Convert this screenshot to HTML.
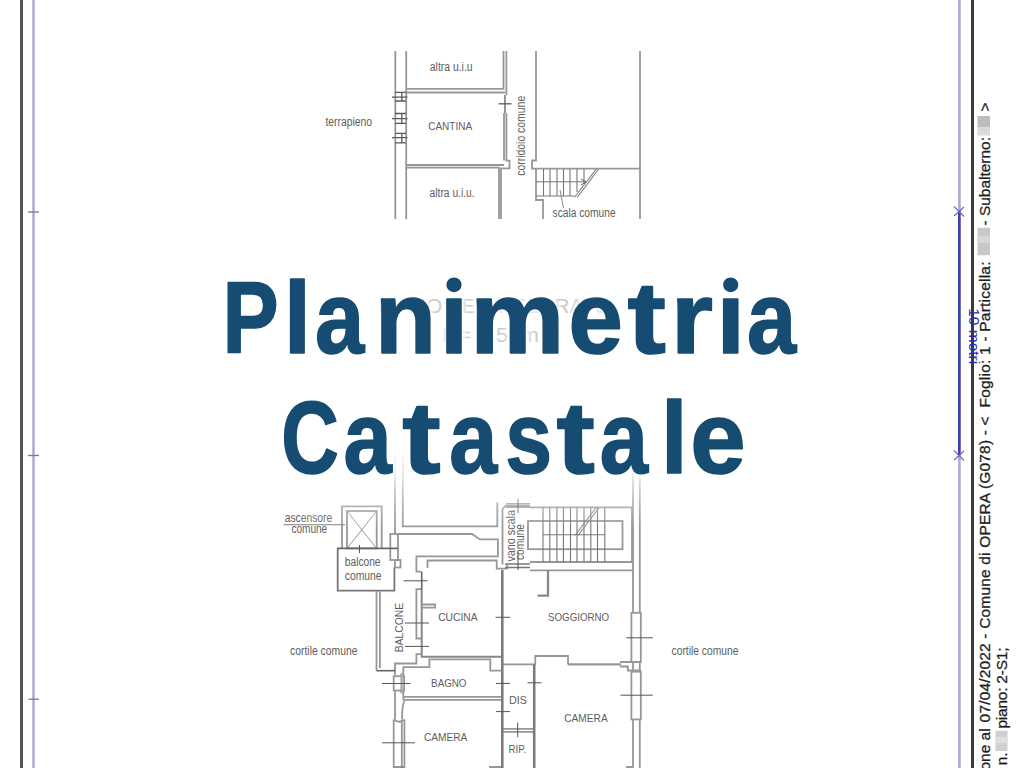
<!DOCTYPE html>
<html><head><meta charset="utf-8"><title>Planimetria Catastale</title>
<style>
html,body{margin:0;padding:0;background:#fff;width:1024px;height:768px;overflow:hidden}
svg{position:absolute;left:0;top:0;display:block}
text{font-family:"Liberation Sans",sans-serif}
</style></head><body>
<svg width="1024" height="768" viewBox="0 0 1024 768">
<!-- page frame -->
<g id="frame">
<rect x="20" y="0" width="3" height="768" fill="#555"/>
<rect x="32" y="0" width="3" height="768" fill="#c2bfe0"/>
<rect x="33" y="0" width="1" height="768" fill="#aaa6d6"/>
<g stroke="#77759a" stroke-width="1.3">
<line x1="28" y1="212" x2="39" y2="212"/>
<line x1="28" y1="455.5" x2="39" y2="455.5"/>
<line x1="28.5" y1="699.2" x2="39" y2="699.2"/>
</g>
<rect x="958" y="0" width="3" height="768" fill="#c4bde0"/>
<rect x="958.5" y="0" width="1.5" height="768" fill="#aea6d8"/>
<rect x="971" y="0" width="3" height="768" fill="#3a3a3a"/>
<!-- scale bar -->
<rect x="958" y="211" width="2.6" height="244.5" fill="#3f3fb4"/>
<path d="M954 206.5L964 216.5M954 216L964 207M954 450.5L964 460.5M954 460L964 451" stroke="#6a6ab0" stroke-width="1.1"/>
<text transform="translate(968.7,308.2) rotate(90)" font-size="15" fill="#2a2ab8" textLength="56" lengthAdjust="spacingAndGlyphs">10 metri</text>
</g>
<!-- rotated info text -->
<g id="info" fill="#1e1e1e" stroke="#1e1e1e" stroke-width="0.3" font-size="15.5">
<text transform="translate(989.5,728.3) rotate(-90)" text-anchor="end">Situazione al</text>
<text transform="translate(989.5,722.4) rotate(-90)" textLength="306" lengthAdjust="spacing">07/04/2022 - Comune di OPERA (G078) - &lt;</text>
<text transform="translate(989.5,407.5) rotate(-90)" textLength="146" lengthAdjust="spacing">Foglio: 1 - Particella:</text>
<text transform="translate(989.5,225.5) rotate(-90)" textLength="88.5" lengthAdjust="spacing">- Subalterno:</text>
<text transform="translate(989.5,111.5) rotate(-90)">&gt;</text>
<text transform="translate(1006.5,765.3) rotate(-90)">n.</text>
<text transform="translate(1006.5,728.5) rotate(-90)" textLength="81" lengthAdjust="spacing">piano: 2-S1;</text>
</g>
<g id="blur">
<rect x="977.5" y="227.8" width="12.5" height="27.4" fill="#c8c8c8"/>
<rect x="977.5" y="236" width="12.5" height="7" fill="#d6d6d6"/>
<rect x="977.5" y="116" width="12.5" height="11" fill="#bdbdbd"/>
<rect x="977.5" y="127" width="12.5" height="8.5" fill="#dadada"/>
<rect x="995.5" y="730.8" width="12" height="20.2" fill="#cfcfcf"/>
<rect x="995.5" y="737" width="12" height="6" fill="#dedede"/>
</g>

<!-- top floor plan: piano S1 -->
<g id="top" fill="none" stroke="#979797" stroke-width="1.8">
<!-- left wall -->
<line x1="395.3" y1="51" x2="395.3" y2="219"/>
<line x1="406.2" y1="51" x2="406.2" y2="219"/>
<!-- wall altra uiu / cantina -->
<polyline points="406.2,88.8 503.5,88.8 503.5,51"/>
<line x1="406.2" y1="92.5" x2="505" y2="92.5"/>
<polyline points="506.4,51 506.4,95"/>
<!-- cantina right wall -->
<polyline points="504,113 504,160.6"/>
<polyline points="506.4,113 506.4,160.6 509.5,160.6 509.5,168.4 501,168.4 501,219"/>
<!-- cantina bottom -->
<line x1="406.2" y1="165" x2="504" y2="165"/>
<polyline points="406.2,167.6 499,167.6 499,219"/>
<!-- corridor right wall + stairs -->
<polyline points="536,51 536,160.5 532,160.5 532,168.7 640,168.7"/>
<line x1="640" y1="51" x2="640" y2="219"/>
<polyline points="536,168.7 536,200 543,200 543,219"/>
</g>
<g id="topdark" fill="none" stroke="#5a5a5a" stroke-width="1.3">
<line x1="505" y1="95" x2="505" y2="113"/>
<line x1="498.6" y1="103.8" x2="511.6" y2="103.8"/>
<!-- windows -->
<path d="M395 92.4H406M392 97.1H407.5M395 101H406M401.8 92.4V101
M395 113.5H406M392 118.6H407.5M395 123.3H406M401.8 113.5V123.3
M395 133.4H406M392 137.7H407.5M395 142.8H406M401.8 133.4V142.8"/>
</g>
<g id="stairs1" fill="none" stroke="#777" stroke-width="1.1">
<path d="M543.5 169V196M550 169V196M557 169V196M563.5 169V196M570 169V196M577 169V192M584 169V184
M536 181.7H586M536 196H574"/>
<path d="M574.4 197.3L596.2 169.2M577.2 197.3L598.6 169.2" stroke="#888"/>
<path d="M581 179L586 182L581 185" stroke="#666" stroke-width="1"/>
<path d="M560 190L563.5 208" stroke="#888" stroke-width="1"/>
</g>
<g id="toplabels" fill="#5e5e5e" font-size="12.3" lengthAdjust="spacingAndGlyphs">
<text x="429.8" y="71" textLength="42.8" lengthAdjust="spacingAndGlyphs">altra u.i.u</text>
<text x="428.2" y="130.3" font-size="11.6" textLength="44" lengthAdjust="spacingAndGlyphs">CANTINA</text>
<text x="429.6" y="197.2" textLength="45" lengthAdjust="spacingAndGlyphs">altra u.i.u.</text>
<text x="325.5" y="125.5" textLength="46.5" lengthAdjust="spacingAndGlyphs">terrapieno</text>
<text x="552.6" y="217" textLength="63" lengthAdjust="spacingAndGlyphs">scala comune</text>
<text transform="translate(525,175.8) rotate(-90)" textLength="80" lengthAdjust="spacingAndGlyphs">corridoio comune</text>
</g>

<!-- bottom floor plan: piano 2 -->
<g id="bot" fill="none" stroke="#979797" stroke-width="1.8">
<!-- walls coming from top -->
<line x1="395" y1="455" x2="395" y2="534"/>
<polyline points="402.8,455 402.8,526.4 497.3,526.4 497.3,502.6"/>
<!-- landing -->
<polyline points="398,534 472,534 480,539.4 497.9,539.4 497.9,556.4 416.4,556.4 416.4,571.6 421,571.6"/>
<!-- elevator -->
<polyline points="342,548.4 342,506.4 381.7,506.4 381.7,548.4"/>
<rect x="347" y="511" width="29.7" height="37.4"/>
<path d="M347 511L376.7 548.4M376.7 511L347 548.4" stroke-width="1"/>
<line x1="283.5" y1="524.7" x2="345" y2="524.7" stroke="#777" stroke-width="1.1"/>
<!-- pillar -->
<rect x="390.3" y="534" width="7.7" height="26"/>
<rect x="395" y="560" width="5.5" height="7.5"/>
<!-- balcone comune -->
<polyline points="337.7,548.4 337.7,590.7 394.4,590.7 394.4,567.5" stroke="#777"/>
<!-- balcone (strip) -->
<polyline points="376.5,590.7 376.5,670.7"/>
<polyline points="379.9,590.7 379.9,668"/>
<!-- cucina -->
<polyline points="421.7,589.2 416.4,589.2 416.4,638.5 421.7,638.5"/>
<polyline points="427.5,568.1 427.5,560.5 496.7,560.5 496.7,568.7 507.2,568.7 507.2,564.6"/>
<polyline points="421.7,589 421.7,656.7 502.3,656.7" stroke="#888" stroke-width="2"/>
<path d="M421.7 604.5H435.2V607.7H421.7"/>
<polyline points="421.7,654.1 416.4,654.1 416.4,663.5 395,663.5 395,674.9"/>
<polyline points="502.3,670.6 490.3,670.6 490.3,659.3 429.4,659.3 429.4,667.1 403.3,667.1 403.3,674.9"/>
<!-- bagno window & bottom -->
<rect x="393.7" y="676.2" width="10.4" height="14.3"/>
<line x1="401.6" y1="676.2" x2="401.6" y2="690.5" stroke="#aaa" stroke-width="2.4"/>
<path d="M400.5 676C400.5 673 403.3 672.5 403.3 676M400.5 690.7C400.5 693.5 403.3 694 403.3 690.7" stroke-width="1.1"/>
<path d="M403.3 696.8H502.3M403.3 699.9H502.3"/>
<polyline points="395,690.5 395,719.4"/>
<polyline points="403.3,690.5 403.3,699.9"/>
<path d="M404.4 700.5C402.5 705 402 712 402 719"/>
<path d="M393.7 719.4Q399 724 404.4 719.4M393.7 719.4V768M401.8 719.4V768M404.4 719.4V768"/>
<!-- stairwell -->
<polyline points="502.5,564.4 502.5,509 505.5,505.8 530,505.8"/>
<polyline points="530,507.3 632,507.3 632,562 530,562"/>
<line x1="530" y1="570.3" x2="633" y2="570.3"/>
<rect x="528" y="521" width="94.5" height="28.2"/>
<!-- exterior right wall -->
<line x1="633" y1="455" x2="633" y2="612.8"/>
<line x1="639.8" y1="455" x2="639.8" y2="612.8"/>
<rect x="631.4" y="612.8" width="9.4" height="49.2"/>
<line x1="633" y1="662" x2="633" y2="671.7"/>
<line x1="639.8" y1="662" x2="639.8" y2="671.7"/>
<rect x="631.4" y="671.7" width="9.4" height="47.7"/>
<line x1="633" y1="719.4" x2="633" y2="768"/>
<line x1="639.8" y1="719.4" x2="639.8" y2="768"/>
<!-- soggiorno -->
<polyline points="537.6,595.6 548,595.6 548,570.3" stroke="#888" stroke-width="2.3"/>
<polyline points="502.3,664.4 535.3,664.4 535.3,656 568,656 568,664.4"/>
<line x1="568" y1="664.4" x2="621" y2="664.4" stroke="#999" stroke-width="2.4"/>
<path d="M620 662H633.5M620 666.5H627.8V670.5H633.5M633.5 661.9H640.8M633.5 670.5H640.8"/>
<!-- rip -->
<path d="M502.3 728.8H534.2M502.3 731.9H534.2"/>
</g>
<g id="botdark" fill="none" stroke="#666" stroke-width="1.6">
<line x1="502.3" y1="570" x2="502.3" y2="768" stroke="#7c7c7c" stroke-width="2.6"/>
<line x1="534.2" y1="664.4" x2="534.2" y2="768" stroke="#7c7c7c" stroke-width="2.6"/>
<path d="M489 767H502M394 767H404M626 767H632" stroke="#777" stroke-width="1.4"/>
<path d="M505 564H530M505 567.5H530M506 503.8H530M506 507H530" stroke="#7a7a7a" stroke-width="1.3"/>
<line x1="421.7" y1="571.6" x2="421.7" y2="589"/>
<line x1="337" y1="548.4" x2="398" y2="548.4"/>
<line x1="376.5" y1="670.7" x2="395" y2="670.7"/>
</g>
<g id="stairs2" fill="none" stroke="#777" stroke-width="1.1">
<path d="M543 507.3V562M549.8 507.3V562M556.9 507.3V562M563.4 507.3V562M570.5 507.3V562M577 507.3V562M584 507.3V562M590.8 507.3V562M597.5 507.3V562M604.8 507.3V562
M543 534.7H604.8"/>
<path d="M575 535.5L596 507.8M578 535.5L599 507.8" stroke="#888"/>
</g>
<g id="ticks" fill="none" stroke="#555" stroke-width="1">
<path d="M403.5 580.8H427.5M405 623H429M405 646.4H429M495.5 617.3H510.2M382 683.5H410.6M382 742.8H415
M496 683.4H510M496 711.6H510M517.7 722.5V737.3M518 499V513M518 552V570
M527.5 682.8H541.5M626.4 637.8H652.7M620.5 695.2H652.7M359.5 545V553"/>
</g>
<g id="botlabels" fill="#5e5e5e" font-size="12.3">
<text x="284.7" y="522" textLength="47.6" lengthAdjust="spacingAndGlyphs">ascensore</text>
<text x="291.5" y="533" textLength="35.7" lengthAdjust="spacingAndGlyphs">comune</text>
<text x="344.8" y="566" textLength="35.7" lengthAdjust="spacingAndGlyphs">balcone</text>
<text x="344.8" y="580" textLength="36.7" lengthAdjust="spacingAndGlyphs">comune</text>
<text x="438.2" y="621" font-size="11.6" textLength="39.3" lengthAdjust="spacingAndGlyphs">CUCINA</text>
<text x="548" y="621.4" font-size="11.6" textLength="61.2" lengthAdjust="spacingAndGlyphs">SOGGIORNO</text>
<text x="431.1" y="687" font-size="11.6" textLength="35.4" lengthAdjust="spacingAndGlyphs">BAGNO</text>
<text x="423.9" y="740.5" font-size="11.6" textLength="43.5" lengthAdjust="spacingAndGlyphs">CAMERA</text>
<text x="564.2" y="721.7" font-size="11.6" textLength="43.5" lengthAdjust="spacingAndGlyphs">CAMERA</text>
<text x="508.9" y="703.8" font-size="11.6" textLength="17.9" lengthAdjust="spacingAndGlyphs">DIS</text>
<text x="508.4" y="753" font-size="11.6" textLength="17.7" lengthAdjust="spacingAndGlyphs">RIP.</text>
<text x="290.1" y="655" textLength="67.4" lengthAdjust="spacingAndGlyphs">cortile comune</text>
<text x="671.5" y="655" textLength="67" lengthAdjust="spacingAndGlyphs">cortile comune</text>
<text transform="translate(402.8,652.3) rotate(-90)" font-size="11.3" textLength="49.4" lengthAdjust="spacingAndGlyphs">BALCONE</text>
<text transform="translate(515,561.6) rotate(-90)" textLength="51.6" lengthAdjust="spacingAndGlyphs">vano scala</text>
<text transform="translate(523.6,560) rotate(-90)" textLength="36" lengthAdjust="spacingAndGlyphs">comune</text>
</g>

<!-- fade overlay on upper part of the lower plan -->
<defs>
<linearGradient id="fade" x1="0" y1="0" x2="0" y2="1">
<stop offset="0" stop-color="#fff" stop-opacity="0.9"/>
<stop offset="0.3" stop-color="#fff" stop-opacity="0.72"/>
<stop offset="0.65" stop-color="#fff" stop-opacity="0.3"/>
<stop offset="1" stop-color="#fff" stop-opacity="0"/>
</linearGradient>
</defs>
<rect x="300" y="455" width="360" height="75" fill="url(#fade)"/>
<!-- faint background captions -->
<g fill="#c8c8c8" font-size="21">
<text x="378" y="312.5" textLength="232" lengthAdjust="spacingAndGlyphs">PIANO SEMINTERRATO</text>
<text x="442" y="342" textLength="97" lengthAdjust="spacingAndGlyphs">H= 2,50m</text>
</g>

<!-- heading -->
<filter id="soft" x="-10%" y="-20%" width="120%" height="140%"><feGaussianBlur stdDeviation="2"/></filter>
<g id="halo" fill="#fff" stroke="#fff" stroke-width="8.5" stroke-linejoin="round" font-weight="bold" font-size="102" filter="url(#soft)" opacity="0.75">
<text transform="matrix(0.8246,0,0,1,222.57,353.0)">P</text>
<text transform="matrix(0.9646,0,0,1,283.83,353.0)">l</text>
<text transform="matrix(0.8679,0,0,1,314.91,353.0)">a</text>
<text transform="matrix(0.9785,0,0,1,374.92,353.0)">n</text>
<text transform="matrix(1.0003,0,0,1,439.78,353.0)">ı</text>
<ellipse cx="454.0" cy="284.8" rx="6.8" ry="6.6"/>
<text transform="matrix(1.0368,0,0,1,470.23,353.0)">m</text>
<text transform="matrix(0.9582,0,0,1,568.48,353.0)">e</text>
<text transform="matrix(1.1310,0,0,1,627.39,353.0)">t</text>
<text transform="matrix(1.0628,0,0,1,670.65,353.0)">r</text>
<text transform="matrix(1.0003,0,0,1,716.48,353.0)">ı</text>
<ellipse cx="730.7" cy="284.8" rx="6.8" ry="6.6"/>
<text transform="matrix(0.8660,0,0,1,746.91,353.0)">a</text>
<text transform="matrix(0.7812,0,0,1,281.23,473.2)">C</text>
<text transform="matrix(0.8495,0,0,1,343.46,473.2)">a</text>
<text transform="matrix(1.1310,0,0,1,402.19,473.2)">t</text>
<text transform="matrix(0.8458,0,0,1,449.27,473.2)">a</text>
<text transform="matrix(0.8252,0,0,1,505.24,473.2)">s</text>
<text transform="matrix(1.1278,0,0,1,556.60,473.2)">t</text>
<text transform="matrix(0.8495,0,0,1,599.76,473.2)">a</text>
<text transform="matrix(0.9360,0,0,1,661.03,473.2)">l</text>
<text transform="matrix(0.9765,0,0,1,690.21,473.2)">e</text>

</g>
<g id="heading" fill="#174c72" stroke="#174c72" stroke-width="1.6" stroke-linejoin="round" font-weight="bold" font-size="102">
<text transform="matrix(0.8246,0,0,1,222.57,353.0)">P</text>
<text transform="matrix(0.9646,0,0,1,283.83,353.0)">l</text>
<text transform="matrix(0.8679,0,0,1,314.91,353.0)">a</text>
<text transform="matrix(0.9785,0,0,1,374.92,353.0)">n</text>
<text transform="matrix(1.0003,0,0,1,439.78,353.0)">ı</text>
<ellipse cx="454.0" cy="284.8" rx="6.8" ry="6.6"/>
<text transform="matrix(1.0368,0,0,1,470.23,353.0)">m</text>
<text transform="matrix(0.9582,0,0,1,568.48,353.0)">e</text>
<text transform="matrix(1.1310,0,0,1,627.39,353.0)">t</text>
<text transform="matrix(1.0628,0,0,1,670.65,353.0)">r</text>
<text transform="matrix(1.0003,0,0,1,716.48,353.0)">ı</text>
<ellipse cx="730.7" cy="284.8" rx="6.8" ry="6.6"/>
<text transform="matrix(0.8660,0,0,1,746.91,353.0)">a</text>
<text transform="matrix(0.7812,0,0,1,281.23,473.2)">C</text>
<text transform="matrix(0.8495,0,0,1,343.46,473.2)">a</text>
<text transform="matrix(1.1310,0,0,1,402.19,473.2)">t</text>
<text transform="matrix(0.8458,0,0,1,449.27,473.2)">a</text>
<text transform="matrix(0.8252,0,0,1,505.24,473.2)">s</text>
<text transform="matrix(1.1278,0,0,1,556.60,473.2)">t</text>
<text transform="matrix(0.8495,0,0,1,599.76,473.2)">a</text>
<text transform="matrix(0.9360,0,0,1,661.03,473.2)">l</text>
<text transform="matrix(0.9765,0,0,1,690.21,473.2)">e</text>

</g>
</svg>
</body></html>
